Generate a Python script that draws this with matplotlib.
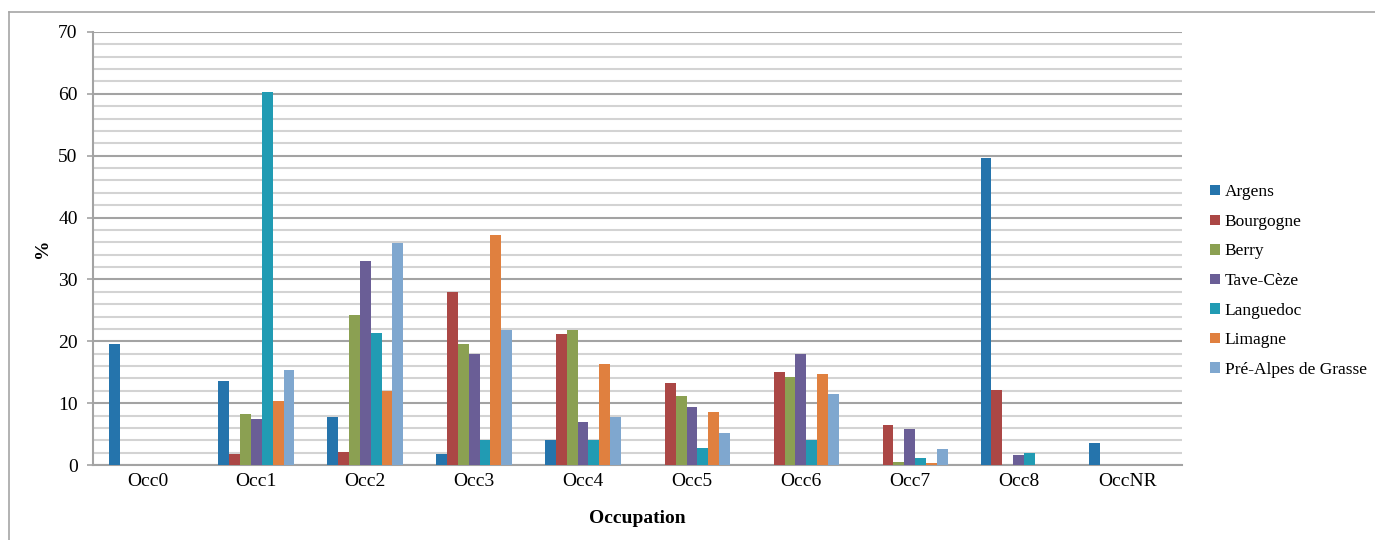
import matplotlib
matplotlib.use("Agg")
import matplotlib.pyplot as plt
import numpy as np
from matplotlib.lines import Line2D

categories = ["Occ0", "Occ1", "Occ2", "Occ3", "Occ4", "Occ5", "Occ6", "Occ7", "Occ8", "OccNR"]
series_names = ["Argens", "Bourgogne", "Berry", "Tave-Cèze", "Languedoc", "Limagne", "Pré-Alpes de Grasse"]

argens     = [19.5, 13.6, 7.7, 1.7, 4.0, 0.0, 0.0, 0.0, 49.7, 3.5]
bourgogne  = [0.0, 1.7, 2.1, 28.0, 21.1, 13.3, 15.0, 6.4, 12.1, 0.0]
berry      = [0.0, 8.2, 24.3, 19.5, 21.9, 11.2, 14.2, 0.5, 0.0, 0.0]
tave_ceze  = [0.0, 7.5, 32.9, 17.9, 6.9, 9.3, 17.9, 5.8, 1.6, 0.0]
languedoc  = [0.0, 60.3, 21.3, 4.0, 4.1, 2.8, 4.0, 1.1, 2.0, 0.0]
limagne    = [0.0, 10.3, 12.0, 37.2, 16.4, 8.6, 14.7, 0.4, 0.0, 0.0]
pre_alpes  = [0.0, 15.4, 35.9, 21.8, 7.7, 5.1, 11.5, 2.6, 0.0, 0.0]

series = [argens, bourgogne, berry, tave_ceze, languedoc, limagne, pre_alpes]
colors = ["#2574AC", "#AB4745", "#8BA052", "#6A5E96", "#219BB3", "#E0803F", "#7FA7CF"]

plt.rcParams['font.family'] = ['Liberation Serif', 'DejaVu Serif']

fig = plt.figure(figsize=(13.75, 5.4), dpi=100)
W, H = 1375, 540
ax = fig.add_axes([93 / W, 1 - 465 / H, (1182 - 93) / W, (465 - 32) / H])

x = np.arange(len(categories))
bw = 0.1
n = len(series)
for i, (vals, c, name) in enumerate(zip(series, colors, series_names)):
    ax.bar(x + (i - (n - 1) / 2) * bw, vals, width=bw, color=c, label=name,
           linewidth=0, zorder=3)

ax.set_xlim(-0.5, len(categories) - 0.5)
ax.set_ylim(0, 70)
ax.set_yticks(np.arange(0, 71, 10))
ax.set_yticks(np.arange(0, 71, 2), minor=True)
ax.yaxis.grid(True, which="minor", color="#d3d3d3", linewidth=1.5, zorder=0)
ax.yaxis.grid(True, which="major", color="#a3a3a3", linewidth=1.5, zorder=1)
ax.set_axisbelow(True)
ax.set_xticks(x)
ax.set_xticklabels(categories)
ax.tick_params(axis="x", length=0, pad=6, labelsize=14)
ax.tick_params(axis="y", which="major", length=4, width=1.2, color="#a3a3a3", labelsize=14, pad=7)
ax.tick_params(axis="y", which="minor", length=0)
for s in ["top", "right"]:
    ax.spines[s].set_visible(False)
ax.spines["left"].set_color("#a3a3a3")
ax.spines["left"].set_linewidth(1.5)
ax.spines["bottom"].set_color("#a3a3a3")
ax.spines["bottom"].set_linewidth(1.5)

ax.set_xlabel("Occupation", fontsize=14, fontweight="bold", labelpad=14)
ax.set_ylabel("%", fontsize=14, fontweight="bold", labelpad=5)

leg = ax.legend(loc="center left", bbox_to_anchor=(1210 / W, 1 - 281 / H),
                bbox_transform=fig.transFigure, frameon=False, fontsize=12.5,
                handlelength=0.55, handleheight=0.55, handletextpad=0.3,
                labelspacing=0.78, borderaxespad=0, borderpad=0)

# outer chart frame (top and left visible)
fig.add_artist(Line2D([9 / W, 1.0], [1 - 12 / H, 1 - 12 / H], transform=fig.transFigure,
                      color="#a6a6a6", linewidth=1.2))
fig.add_artist(Line2D([9 / W, 9 / W], [1 - 12 / H, 0.0], transform=fig.transFigure,
                      color="#a6a6a6", linewidth=1.2))

fig.savefig("out.png", dpi=100)
